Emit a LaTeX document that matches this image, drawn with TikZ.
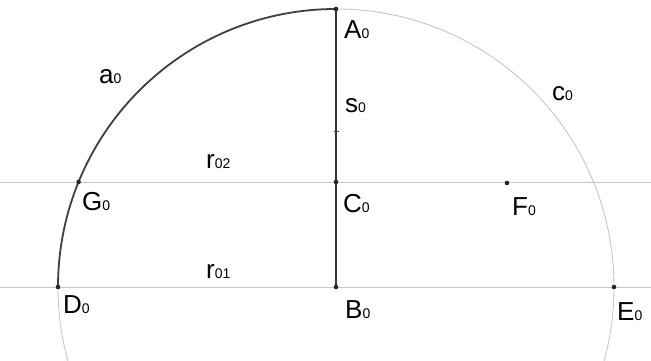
\documentclass[tikz,border=0pt]{standalone}
\usepackage{fontspec}
\setmainfont{Liberation Sans}
\usepackage{tikz}
\tikzset{
  thinline/.style  = {gray!45,line width=0.9pt},
  arcline/.style   = {black!75,line width=1.8pt},
  segline/.style   = {black!80,line width=1.4pt},
  ptdot/.style     = {black!85},
  lbl/.style       = {anchor=base west,inner sep=0pt}
}
\newcommand{\plabel}[2]{{\fontsize{26}{26}\selectfont #1}{\fontsize{14}{14}\selectfont #2}}

\begin{document}
\begin{tikzpicture}[x=1pt,y=1pt]
  \useasboundingbox (0,0) rectangle (651,360);
  \clip (0,0) rectangle (651,360);
  \coordinate (B) at (336,73);
  \coordinate (A) at (336,351);
  \coordinate (C) at (336,178);
  \coordinate (D) at (58,73);
  \coordinate (E) at (614,73);
  \coordinate (F) at (507,177);
  \coordinate (G) at (78.6,178);
  \coordinate (T) at (336,229);
  \coordinate (l1w) at (0,178);
  \coordinate (l1e) at (651,178);
  \coordinate (l0w) at (0,73);
  \coordinate (l0e) at (651,73);
  \draw[thinline] (l1w) -- (l1e);
  \draw[thinline] (l0w) -- (l0e);
  \draw[thinline] (B) circle[radius=278pt];
  \draw[arcline] (A) arc[start angle=90,end angle=180,radius=278pt];
  \draw[segline] (A) -- (B);
  \draw[black!70,line width=0.8pt] ([xshift=-2.5pt]T) -- ([xshift=2.5pt]T);
  \foreach \p in {A,B,C,D,E,F,G}
    \fill[ptdot] (\p) circle (2.3pt);
  \node[lbl] (lA) at (344,322) {\plabel{A}{0}};
  \node[lbl] (la) at (99,277)  {\plabel{a}{0}};
  \node[lbl] (ls) at (345,248) {\plabel{s}{0}};
  \node[lbl] (lc) at (552,260) {\plabel{c}{0}};
  \node[lbl] (lr2) at (206,192) {\plabel{r}{02}};
  \node[lbl] (lr1) at (206,82)  {\plabel{r}{01}};
  \node[lbl] (lG) at (82,150)  {\plabel{G}{0}};
  \node[lbl] (lC) at (343,148) {\plabel{C}{0}};
  \node[lbl] (lF) at (512,145) {\plabel{F}{0}};
  \node[lbl] (lD) at (63,47)   {\plabel{D}{0}};
  \node[lbl] (lB) at (345,42)  {\plabel{B}{0}};
  \node[lbl] (lE) at (617,40)  {\plabel{E}{0}};
\end{tikzpicture}
\end{document}
